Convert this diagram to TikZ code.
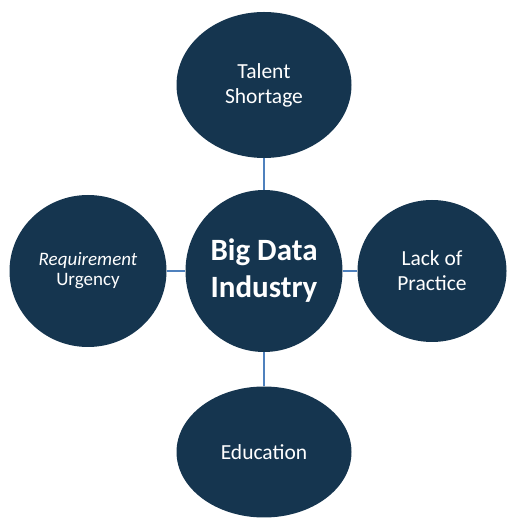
\documentclass[tikz,border=0pt]{standalone}
\usepackage{fontspec}
\setmainfont{Carlito}
\usetikzlibrary{shapes.geometric}
\definecolor{bubblenavy}{HTML}{15354F}
\definecolor{linkblue}{HTML}{4F81BD}

\begin{document}
\begin{tikzpicture}[
  x=1pt, y=1pt,
  bubble/.style={ellipse, fill=bubblenavy, text=white, inner sep=0pt, align=center,
    font=\fontsize{21.5}{25}\selectfont},
  link/.style={linkblue, line width=2.8pt}
]
\useasboundingbox (0,0) rectangle (508,519);

% Central hub
\node[bubble, minimum width=157, minimum height=162,
  font=\fontsize{31}{37}\selectfont\bfseries] (hub) at (264,248) {Big Data\\Industry};

% Surrounding factors
\node[bubble, minimum width=175, minimum height=146] (talent) at (264,434) {Talent\\Shortage};
\node[bubble, minimum width=157, minimum height=152,
  font=\fontsize{19}{20}\selectfont] (urgency) at (88,248) {\textit{Requirement}\\Urgency};
\node[bubble, minimum width=149, minimum height=142] (practice) at (432,248) {Lack of\\Practice};
\node[bubble, minimum width=175, minimum height=131] (education) at (264,67) {Education};

% Links to the hub
\draw[link] (talent) -- (hub);
\draw[link] (education) -- (hub);
\draw[link] (urgency) -- (hub);
\draw[link] (practice) -- (hub);

\end{tikzpicture}
\end{document}
